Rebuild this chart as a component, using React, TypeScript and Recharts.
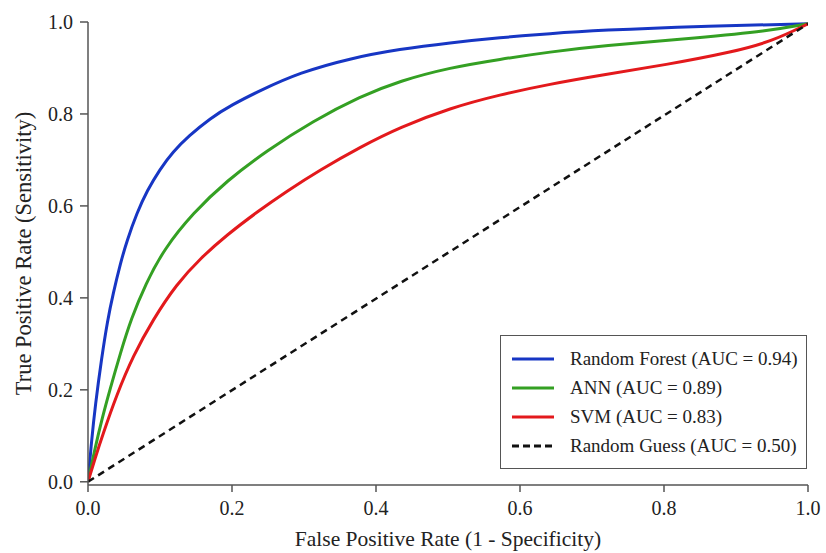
import { Legend, Line, LineChart, XAxis, YAxis } from 'recharts';

type RocPoint = { fpr: number; tpr: number };

const randomForest: RocPoint[] = [
  { fpr: 0, tpr: 0 },
  { fpr: 0.005, tpr: 0.09 },
  { fpr: 0.01, tpr: 0.165 },
  { fpr: 0.019, tpr: 0.27 },
  { fpr: 0.027, tpr: 0.35 },
  { fpr: 0.035, tpr: 0.41 },
  { fpr: 0.045, tpr: 0.475 },
  { fpr: 0.054, tpr: 0.524 },
  { fpr: 0.068, tpr: 0.585 },
  { fpr: 0.082, tpr: 0.633 },
  { fpr: 0.1, tpr: 0.68 },
  { fpr: 0.118, tpr: 0.718 },
  { fpr: 0.14, tpr: 0.752 },
  { fpr: 0.169, tpr: 0.79 },
  { fpr: 0.2, tpr: 0.82 },
  { fpr: 0.239, tpr: 0.851 },
  { fpr: 0.294, tpr: 0.89 },
  { fpr: 0.364, tpr: 0.921 },
  { fpr: 0.433, tpr: 0.941 },
  { fpr: 0.503, tpr: 0.955 },
  { fpr: 0.572, tpr: 0.966 },
  { fpr: 0.642, tpr: 0.975 },
  { fpr: 0.711, tpr: 0.982 },
  { fpr: 0.85, tpr: 0.991 },
  { fpr: 1, tpr: 0.996 },
];

const ann: RocPoint[] = [
  { fpr: 0, tpr: 0 },
  { fpr: 0.01, tpr: 0.075 },
  { fpr: 0.02, tpr: 0.14 },
  { fpr: 0.03, tpr: 0.198 },
  { fpr: 0.045, tpr: 0.28 },
  { fpr: 0.06, tpr: 0.355 },
  { fpr: 0.08, tpr: 0.43 },
  { fpr: 0.105, tpr: 0.505 },
  { fpr: 0.146, tpr: 0.585 },
  { fpr: 0.193, tpr: 0.655 },
  { fpr: 0.248, tpr: 0.72 },
  { fpr: 0.313, tpr: 0.785 },
  { fpr: 0.378, tpr: 0.838 },
  { fpr: 0.433, tpr: 0.872 },
  { fpr: 0.503, tpr: 0.901 },
  { fpr: 0.572, tpr: 0.919 },
  { fpr: 0.642, tpr: 0.935 },
  { fpr: 0.711, tpr: 0.948 },
  { fpr: 0.85, tpr: 0.966 },
  { fpr: 0.943, tpr: 0.98 },
  { fpr: 1, tpr: 0.996 },
];

const svm: RocPoint[] = [
  { fpr: 0, tpr: 0 },
  { fpr: 0.01, tpr: 0.052 },
  { fpr: 0.02, tpr: 0.1 },
  { fpr: 0.04, tpr: 0.19 },
  { fpr: 0.063, tpr: 0.275 },
  { fpr: 0.09, tpr: 0.352 },
  { fpr: 0.123, tpr: 0.43 },
  { fpr: 0.156, tpr: 0.486 },
  { fpr: 0.193, tpr: 0.537 },
  { fpr: 0.234, tpr: 0.586 },
  { fpr: 0.276, tpr: 0.632 },
  { fpr: 0.322, tpr: 0.678 },
  { fpr: 0.378, tpr: 0.728 },
  { fpr: 0.433, tpr: 0.771 },
  { fpr: 0.503, tpr: 0.813 },
  { fpr: 0.572, tpr: 0.842 },
  { fpr: 0.642, tpr: 0.865 },
  { fpr: 0.711, tpr: 0.884 },
  { fpr: 0.803, tpr: 0.907 },
  { fpr: 0.896, tpr: 0.935 },
  { fpr: 0.95, tpr: 0.958 },
  { fpr: 1, tpr: 0.996 },
];

const randomGuess: RocPoint[] = [
  { fpr: 0, tpr: 0 },
  { fpr: 1, tpr: 0.996 },
];

const axisTicks = [0, 0.2, 0.4, 0.6, 0.8, 1.0];

const FONT = '"Liberation Serif", "Times New Roman", serif';
const AXIS_COLOR = '#555';
const TEXT_COLOR = '#222';

type Series = {
  name: string;
  data: RocPoint[];
  color: string;
  width: number;
  dash?: string;
};

const series: Series[] = [
  { name: 'Random Forest (AUC = 0.94)', data: randomForest, color: '#1736c4', width: 3 },
  { name: 'ANN (AUC = 0.89)', data: ann, color: '#34a023', width: 3 },
  { name: 'SVM (AUC = 0.83)', data: svm, color: '#e3191c', width: 3 },
  { name: 'Random Guess (AUC = 0.50)', data: randomGuess, color: '#111', width: 2.5, dash: '7 5' },
];

function RocLegend() {
  return (
    <div
      style={{
        border: `1.5px solid ${AXIS_COLOR}`,
        background: '#fff',
        padding: '8px 0 8px 10px',
        fontFamily: FONT,
        fontSize: 19,
        color: TEXT_COLOR,
        boxSizing: 'border-box',
        width: 307,
      }}
    >
      {series.map((s) => (
        <div key={s.name} style={{ display: 'flex', alignItems: 'center', height: 29 }}>
          <svg width={44} height={10} style={{ marginRight: 15 }}>
            <line
              x1={1}
              y1={5}
              x2={43}
              y2={5}
              stroke={s.color}
              strokeWidth={3}
              strokeDasharray={s.dash ? '7 4' : undefined}
            />
          </svg>
          <span>{s.name}</span>
        </div>
      ))}
    </div>
  );
}

export default function App() {
  return (
    <div style={{ position: 'absolute', left: 0, top: 0, background: '#fff' }}>
      <LineChart width={826} height={553} margin={{ top: 22, right: 18, bottom: 0, left: 0 }}>
        <XAxis
          type="number"
          dataKey="fpr"
          domain={[0, 1]}
          ticks={axisTicks}
          tickFormatter={(v: number) => v.toFixed(1)}
          allowDataOverflow
          height={68}
          tickSize={7}
          tickMargin={9}
          stroke={AXIS_COLOR}
          strokeWidth={1.5}
          tick={{ fill: TEXT_COLOR, fontSize: 20, fontFamily: FONT }}
          label={{
            value: 'False Positive Rate (1 - Specificity)',
            position: 'insideBottom',
            offset: 7,
            style: { fill: TEXT_COLOR, fontSize: 21.5, fontFamily: FONT },
          }}
        />
        <YAxis
          type="number"
          dataKey="tpr"
          domain={[-0.007, 1]}
          ticks={axisTicks}
          tickFormatter={(v: number) => v.toFixed(1)}
          allowDataOverflow
          width={88}
          tickSize={8}
          tickMargin={7}
          stroke={AXIS_COLOR}
          strokeWidth={1.5}
          tick={{ fill: TEXT_COLOR, fontSize: 20, fontFamily: FONT }}
          label={{
            value: 'True Positive Rate (Sensitivity)',
            angle: -90,
            position: 'insideLeft',
            offset: 23,
            style: { fill: TEXT_COLOR, fontSize: 22.5, fontFamily: FONT, textAnchor: 'middle' },
          }}
        />
        {series.map((s) => (
          <Line
            key={s.name}
            data={s.data}
            dataKey="tpr"
            name={s.name}
            type={s.dash ? 'linear' : 'basis'}
            stroke={s.color}
            strokeWidth={s.width}
            strokeDasharray={s.dash}
            dot={false}
            isAnimationActive={false}
          />
        ))}
        <Legend
          layout="horizontal"
          verticalAlign="middle"
          align="center"
          content={() => <RocLegend />}
          wrapperStyle={{ left: 500, top: 335, width: 307 }}
        />
      </LineChart>
    </div>
  );
}
